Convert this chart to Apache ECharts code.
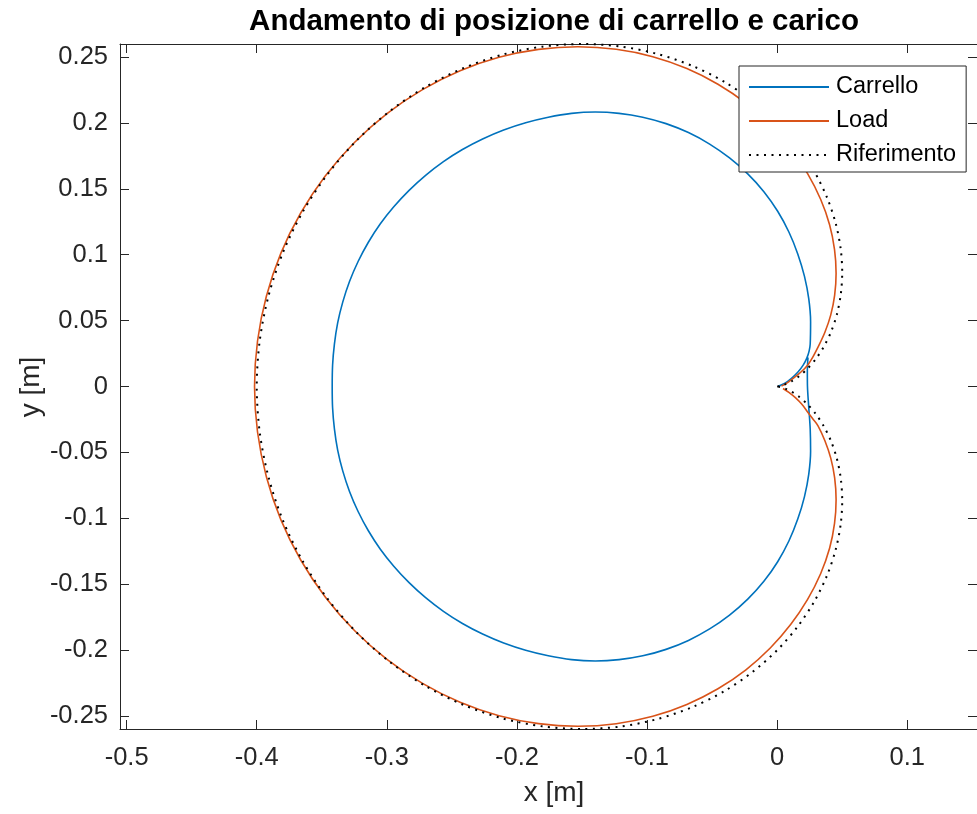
<!DOCTYPE html>
<html>
<head>
<meta charset="utf-8">
<script src="https://cdn.jsdelivr.net/npm/echarts@6/dist/echarts.min.js"></script>
<style>
html,body{margin:0;padding:0;background:#fff;}
#chart{width:977px;height:814px;}
</style>
</head>
<body>
<div id="chart"></div>
<script>
// ---- Data ----
const titleText = 'Andamento di posizione di carrello e carico';
const xLabelText = 'x [m]';
const yLabelText = 'y [m]';
const seriesNames = ['Carrello', 'Load', 'Riferimento'];

const xTicks = [-0.5, -0.4, -0.3, -0.2, -0.1, 0, 0.1];
const yTicks = [-0.25, -0.2, -0.15, -0.1, -0.05, 0, 0.05, 0.1, 0.15, 0.2, 0.25];

// Carrello (cart) trajectory: start branch from the origin, the loop, the closing branch
const carrelloX = [
  0.0008, 0.0060, 0.0110, 0.0160, 0.0200, 0.0228, 0.0246,
  0.0254, 0.0257, 0.0243, 0.0210, 0.0159, 0.0091, 0.0004, -0.0102, -0.0226, -0.0366,
  -0.0519, -0.0682, -0.0854, -0.1033, -0.1215, -0.1398, -0.1580, -0.1759, -0.1933, -0.2102,
  -0.2264, -0.2419, -0.2565, -0.2702, -0.2829, -0.2945, -0.3050, -0.3142, -0.3221, -0.3287,
  -0.3339, -0.3378, -0.3403, -0.3417, -0.3420,
  -0.3417, -0.3403, -0.3378, -0.3339, -0.3287, -0.3221, -0.3142, -0.3050, -0.2945, -0.2829,
  -0.2702, -0.2565, -0.2419, -0.2264, -0.2102, -0.1933, -0.1759, -0.1580, -0.1398, -0.1215,
  -0.1033, -0.0854, -0.0682, -0.0519, -0.0366, -0.0226, -0.0102, 0.0004, 0.0091, 0.0159,
  0.0210, 0.0243, 0.0257, 0.0254,
  0.0243, 0.0233, 0.0232, 0.0237];
const carrelloY = [
  0.0002, 0.0025, 0.0062, 0.0110, 0.0162, 0.0215, 0.0270,
  0.0323, 0.0492, 0.0664, 0.0835, 0.1004, 0.1170, 0.1329, 0.1478, 0.1613, 0.1734,
  0.1839, 0.1926, 0.1994, 0.2043, 0.2072, 0.2082, 0.2072, 0.2043, 0.2001, 0.1946,
  0.1878, 0.1798, 0.1706, 0.1602, 0.1488, 0.1365, 0.1234, 0.1094, 0.0948, 0.0796,
  0.0640, 0.0482, 0.0321, 0.0161, 0.0000,
  -0.0161, -0.0321, -0.0482, -0.0640, -0.0796, -0.0948, -0.1094, -0.1234, -0.1365, -0.1488,
  -0.1602, -0.1706, -0.1798, -0.1878, -0.1946, -0.2001, -0.2043, -0.2072, -0.2082, -0.2072,
  -0.2043, -0.1994, -0.1926, -0.1839, -0.1734, -0.1613, -0.1478, -0.1329, -0.1170, -0.1004,
  -0.0835, -0.0664, -0.0492, -0.0323,
  -0.0160, 0.0000, 0.0120, 0.0220];

// Load trajectory
const loadX = [
  0.0033, 0.0080, 0.0130, 0.0185, 0.0234, 0.0275, 0.0314, 0.0367, 0.0412, 0.0442,
  0.0453, 0.0441, 0.0403, 0.0334, 0.0234, 0.0105, -0.0053, -0.0240, -0.0455, -0.0694,
  -0.0956, -0.1237, -0.1532, -0.1834, -0.2138, -0.2437, -0.2726, -0.2999, -0.3249, -0.3472,
  -0.3662, -0.3815, -0.3926, -0.3994, -0.4017,
  -0.3994, -0.3926, -0.3815, -0.3662, -0.3472, -0.3249, -0.2999, -0.2726, -0.2437, -0.2138,
  -0.1834, -0.1532, -0.1237, -0.0956, -0.0694, -0.0455, -0.0240, -0.0053, 0.0105, 0.0234,
  0.0334, 0.0403, 0.0441, 0.0453, 0.0442, 0.0412, 0.0367, 0.0314, 0.0272, 0.0234,
  0.0190, 0.0140, 0.0090, 0.0045];
const loadY = [
  0.0003, 0.0030, 0.0068, 0.0112, 0.0162, 0.0225, 0.0298, 0.0411, 0.0543, 0.0693,
  0.0859, 0.1038, 0.1227, 0.1420, 0.1615, 0.1804, 0.1984, 0.2149, 0.2293, 0.2412,
  0.2502, 0.2558, 0.2577, 0.2557, 0.2497, 0.2395, 0.2252, 0.2070, 0.1851, 0.1598,
  0.1316, 0.1010, 0.0684, 0.0345, 0.0000,
  -0.0345, -0.0684, -0.1010, -0.1316, -0.1598, -0.1851, -0.2070, -0.2252, -0.2395, -0.2497,
  -0.2557, -0.2577, -0.2558, -0.2502, -0.2412, -0.2293, -0.2149, -0.1984, -0.1804, -0.1615,
  -0.1420, -0.1227, -0.1038, -0.0859, -0.0693, -0.0543, -0.0411, -0.0298, -0.0243, -0.0193,
  -0.0135, -0.0085, -0.0045, -0.0015];

// Riferimento (reference) trajectory
const refX = [
  0.0000, 0.0008, 0.0030, 0.0066, 0.0113, 0.0170, 0.0232, 0.0296, 0.0358, 0.0414,
  0.0459, 0.0489, 0.0500, 0.0488, 0.0450, 0.0384, 0.0287, 0.0159, 0.0000, -0.0190,
  -0.0408, -0.0652, -0.0918, -0.1202, -0.1500, -0.1805, -0.2112, -0.2414, -0.2706, -0.2980,
  -0.3232, -0.3455, -0.3645, -0.3798, -0.3909, -0.3977, -0.4000,
  -0.3977, -0.3909, -0.3798, -0.3645, -0.3455, -0.3232, -0.2980, -0.2706, -0.2414, -0.2112,
  -0.1805, -0.1500, -0.1202, -0.0918, -0.0652, -0.0408, -0.0190, 0.0000, 0.0159, 0.0287,
  0.0384, 0.0450, 0.0488, 0.0500, 0.0489, 0.0459, 0.0414, 0.0358, 0.0296, 0.0232,
  0.0170, 0.0113, 0.0066, 0.0030, 0.0008, 0.0000];
const refY = [
  0.0000, 0.0001, 0.0005, 0.0018, 0.0041, 0.0079, 0.0134, 0.0207, 0.0301, 0.0414,
  0.0547, 0.0699, 0.0866, 0.1047, 0.1237, 0.1432, 0.1628, 0.1819, 0.2000, 0.2166,
  0.2312, 0.2432, 0.2522, 0.2579, 0.2598, 0.2578, 0.2517, 0.2414, 0.2270, 0.2087,
  0.1866, 0.1611, 0.1327, 0.1018, 0.0689, 0.0348, 0.0000,
  -0.0348, -0.0689, -0.1018, -0.1327, -0.1611, -0.1866, -0.2087, -0.2270, -0.2414, -0.2517,
  -0.2578, -0.2598, -0.2579, -0.2522, -0.2432, -0.2312, -0.2166, -0.2000, -0.1819, -0.1628,
  -0.1432, -0.1237, -0.1047, -0.0866, -0.0699, -0.0547, -0.0414, -0.0301, -0.0207, -0.0134,
  -0.0079, -0.0041, -0.0018, -0.0005, -0.0001, 0.0000];

// ---- Chart ----
const pairs = (xs, ys) => xs.map((x, i) => [x, ys[i]]);
const FONT = '"Liberation Sans", Arial, Helvetica, sans-serif';
const AX = '#262626';

const chart = echarts.init(document.getElementById('chart'), null, {renderer: 'canvas'});

const xMin = -0.5051, xMax = 0.1536;
const yMin = -0.2598, yMax = 0.2598;

function xAxisDef(pos, showLabel) {
  return {
    type: 'value', position: pos, min: xMin, max: xMax,
    axisLine: {show: true, onZero: false, lineStyle: {color: AX, width: 1}},
    axisTick: {show: true, inside: true, length: 9, customValues: xTicks, lineStyle: {color: AX, width: 1}},
    axisLabel: {show: showLabel, customValues: xTicks, margin: 16, fontSize: 25.5, fontFamily: FONT, color: AX,
      formatter: v => String(v)},
    splitLine: {show: false}
  };
}
function yAxisDef(pos, showLabel) {
  return {
    type: 'value', position: pos, min: yMin, max: yMax,
    axisLine: {show: true, onZero: false, lineStyle: {color: AX, width: 1}},
    axisTick: {show: true, inside: true, length: 9, customValues: yTicks, lineStyle: {color: AX, width: 1}},
    axisLabel: {show: showLabel, customValues: yTicks, margin: 12, fontSize: 25.5, fontFamily: FONT, color: AX,
      formatter: v => String(v)},
    splitLine: {show: false}
  };
}

const lineSeries = (name, xs, ys, color, extra) => Object.assign({
  name: name, type: 'line', data: pairs(xs, ys), smooth: 0.3,
  symbol: 'none', showSymbol: false, clip: false,
  lineStyle: {color: color, width: 1.6}, itemStyle: {color: color}
}, extra || {});

const option = {
  animation: false,
  backgroundColor: '#fff',
  grid: {left: 120, top: 44, right: -11, bottom: 85, containLabel: false},
  xAxis: [xAxisDef('bottom', true), xAxisDef('top', false)],
  yAxis: [yAxisDef('left', true), yAxisDef('right', false)],
  legend: {
    data: seriesNames,
    orient: 'vertical',
    left: 739, top: 66,
    padding: [9, 10, 5, 9],
    itemWidth: 80, itemHeight: 12, itemGap: 10,
    itemStyle: {opacity: 0},
    backgroundColor: '#fff',
    borderColor: AX, borderWidth: 1, borderRadius: 0,
    textStyle: {fontSize: 23.5, fontFamily: FONT, color: '#000', lineHeight: 23, padding: [0, 0, 0, 2]},
    selectedMode: false
  },
  graphic: [
    {type: 'text', x: 554, y: 22, z: 100,
      style: {text: titleText, font: 'bold 29.5px ' + FONT, fill: '#000',
        align: 'center', verticalAlign: 'middle', textAlign: 'center', textVerticalAlign: 'middle'}},
    {type: 'text', x: 554, y: 793, z: 100,
      style: {text: xLabelText, font: '28px ' + FONT, fill: AX,
        align: 'center', verticalAlign: 'middle', textAlign: 'center', textVerticalAlign: 'middle'}},
    {type: 'text', x: 31, y: 387, rotation: Math.PI / 2, z: 100,
      style: {text: yLabelText, font: '28px ' + FONT, fill: AX,
        align: 'center', verticalAlign: 'middle', textAlign: 'center', textVerticalAlign: 'middle'}}
  ],
  series: [
    lineSeries(seriesNames[0], carrelloX, carrelloY, '#0072BD'),
    lineSeries(seriesNames[1], loadX, loadY, '#D95319'),
    lineSeries(seriesNames[2], refX, refY, '#000', {lineStyle: {color: '#000', width: 2, type: [2, 5.5]}})
  ]
};
chart.setOption(option);
</script>
</body>
</html>
